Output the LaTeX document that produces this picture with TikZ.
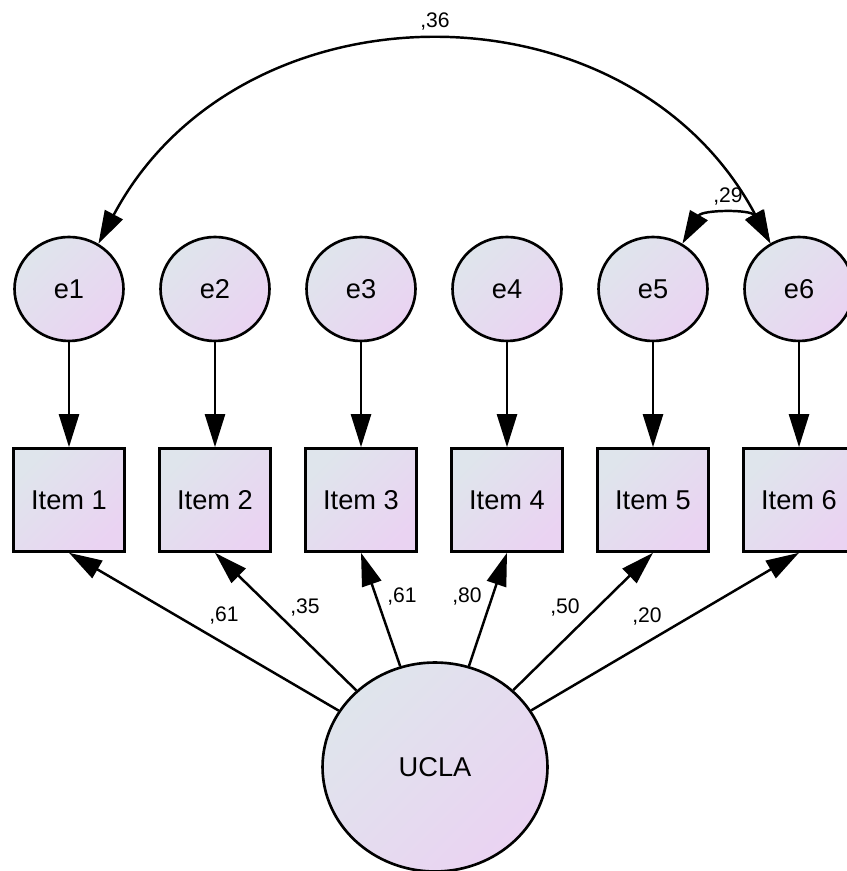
\documentclass[tikz,border=0pt]{standalone}
\usepackage{fontspec}
\setmainfont{Liberation Sans}
\usetikzlibrary{arrows.meta,shapes.geometric}
\definecolor{semblue}{HTML}{DFE5EC}
\definecolor{semlilac}{HTML}{EAD3F2}

\begin{document}
\begin{tikzpicture}[x=0.02cm,y=0.02cm,
    semfill/.style={top color=semblue,bottom color=semlilac,shading angle=45},
    err/.style={ellipse,draw,line width=1.5pt,semfill,minimum width=2.18cm,
      minimum height=2.08cm,inner sep=0pt,font=\fontsize{15.5}{18}\selectfont},
    obs/.style={rectangle,draw,line width=1.5pt,semfill,minimum width=2.22cm,
      minimum height=2.06cm,inner sep=0pt,font=\fontsize{15.5}{18}\selectfont},
    lat/.style={ellipse,draw,line width=1.5pt,semfill,minimum width=4.5cm,
      minimum height=4.18cm,inner sep=0pt,font=\fontsize{15.5}{18}\selectfont},
    regr/.style={line width=1.4pt,-{Triangle[length=0.66cm,width=0.4cm]}},
    cov/.style={line width=1.4pt,
      {Triangle[length=0.66cm,width=0.4cm]}-{Triangle[length=0.66cm,width=0.4cm]}},
    est/.style={inner sep=0pt,font=\fontsize{12}{14}\selectfont}]

  \useasboundingbox (0,0) rectangle (847,871);

  % --- error terms ---
  \node[err] (e1) at (69,582)  {e1};
  \node[err] (e2) at (215,582) {e2};
  \node[err] (e3) at (361,582) {e3};
  \node[err] (e4) at (507,582) {e4};
  \node[err] (e5) at (653,582) {e5};
  \node[err] (e6) at (799,582) {e6};

  % --- observed items ---
  \node[obs] (it1) at (69,371)  {Item 1};
  \node[obs] (it2) at (215,371) {Item 2};
  \node[obs] (it3) at (361,371) {Item 3};
  \node[obs] (it4) at (507,371) {Item 4};
  \node[obs] (it5) at (653,371) {Item 5};
  \node[obs] (it6) at (799,371) {Item 6};

  % --- latent factor ---
  \node[lat] (ucla) at (435,104) {UCLA};

  % --- error paths ---
  \draw[regr] (e1) -- (it1);
  \draw[regr] (e2) -- (it2);
  \draw[regr] (e3) -- (it3);
  \draw[regr] (e4) -- (it4);
  \draw[regr] (e5) -- (it5);
  \draw[regr] (e6) -- (it6);

  % --- loadings ---
  \draw[regr] (ucla) -- (it1.south);
  \draw[regr] (ucla) -- (it2.south);
  \draw[regr] (ucla) -- (it3.south);
  \draw[regr] (ucla) -- (it4.south);
  \draw[regr] (ucla) -- (it5.south);
  \draw[regr] (ucla) -- (it6.south);

  % --- covariances ---
  \draw[cov] (e6.122) to[out=118,in=62,looseness=1.15] (e1.57);
  \draw[cov] (e5.57) to[out=60,in=120,looseness=1.14] (e6.122);

  % --- estimates ---
  \node[est] (l1) at (224,256) {,61};
  \node[est] (l2) at (305,264) {,35};
  \node[est] (l3) at (402,275) {,61};
  \node[est] (l4) at (467,275) {,80};
  \node[est] (l5) at (565,264) {,50};
  \node[est] (l6) at (647,255) {,20};
  \node[est] (c16) at (435,849) {,36};
  \node[est] (c56) at (728,674) {,29};

\end{tikzpicture}
\end{document}
